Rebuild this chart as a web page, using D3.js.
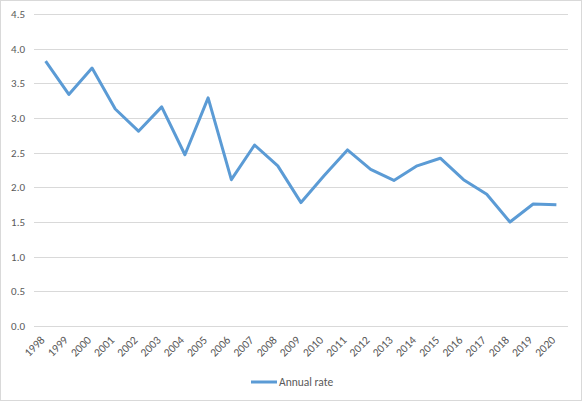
<!DOCTYPE html>
<html>
<head>
<meta charset="utf-8">
<script src="https://cdn.jsdelivr.net/npm/d3@7"></script>
<style>
  body { margin: 0; background: #fff; }
  text { font-family: Calibri, Carlito, "Liberation Sans", sans-serif; fill: #595959; }
</style>
</head>
<body>
<div id="chart"></div>
<script>
const width = 583;
const height = 402;

const years = ['1998', '1999', '2000', '2001', '2002', '2003', '2004', '2005', '2006', '2007', '2008',
  '2009', '2010', '2011', '2012', '2013', '2014', '2015', '2016', '2017', '2018', '2019', '2020'];
const annualRate = [3.82, 3.34, 3.72, 3.13, 2.81, 3.16, 2.47, 3.29, 2.11, 2.61, 2.31,
  1.78, 2.17, 2.54, 2.26, 2.10, 2.31, 2.42, 2.11, 1.90, 1.50, 1.76, 1.75];
const yTicks = [0, 0.5, 1, 1.5, 2, 2.5, 3, 3.5, 4, 4.5];
const seriesName = 'Annual rate';

const margin = {left: 34, right: 15, top: 14, bottom: 76};
const lineColor = '#5B9BD5';

const svg = d3.select('#chart').append('svg')
  .attr('width', width).attr('height', height);

// outer chart border
svg.append('rect')
  .attr('x', 0.5).attr('y', 0.5)
  .attr('width', width - 2).attr('height', height - 2)
  .attr('fill', '#fff').attr('stroke', '#d9d9d9');

const x = d3.scaleBand().domain(years).range([margin.left, width - margin.right]);
const y = d3.scaleLinear().domain([0, 4.5]).range([height - margin.bottom, margin.top]);

// gridlines
svg.append('g')
  .selectAll('line')
  .data(yTicks)
  .enter()
  .append('line')
  .attr('x1', margin.left)
  .attr('x2', width - margin.right)
  .attr('y1', (d) => Math.round(y(d)) + 0.5)
  .attr('y2', (d) => Math.round(y(d)) + 0.5)
  .style('stroke', '#d9d9d9')
  .style('stroke-width', '1px');

// y labels
svg.append('g')
  .selectAll('text')
  .data(yTicks)
  .enter()
  .append('text')
  .attr('x', 25)
  .attr('y', (d) => y(d))
  .attr('dy', '0.35em')
  .attr('text-anchor', 'end')
  .style('font-size', '11px')
  .text((d) => d3.format('.1f')(d));

// x labels, rotated
svg.append('g')
  .selectAll('text')
  .data(years)
  .enter()
  .append('text')
  .attr('transform', (d) => `translate(${x(d) + x.bandwidth() / 2 - 3},${height - margin.bottom + 12}) rotate(-45)`)
  .attr('text-anchor', 'end')
  .attr('dy', '0.35em')
  .style('font-size', '11.5px')
  .text((d) => d);

// the line
const line = d3.line()
  .x((d, i) => x(years[i]) + x.bandwidth() / 2)
  .y((d) => y(d));

svg.append('path')
  .datum(annualRate)
  .attr('d', line)
  .style('fill', 'none')
  .style('stroke', lineColor)
  .style('stroke-width', '3px')
  .style('stroke-linejoin', 'round');

// legend
const legend = svg.append('g').attr('transform', 'translate(251,382)');
legend.append('line')
  .attr('x1', 0).attr('x2', 26)
  .attr('y1', 0).attr('y2', 0)
  .style('stroke', lineColor)
  .style('stroke-width', '3px');
legend.append('text')
  .attr('x', 28)
  .attr('y', 0)
  .attr('dy', '0.35em')
  .style('font-size', '11.5px')
  .text(seriesName);
</script>
</body>
</html>
